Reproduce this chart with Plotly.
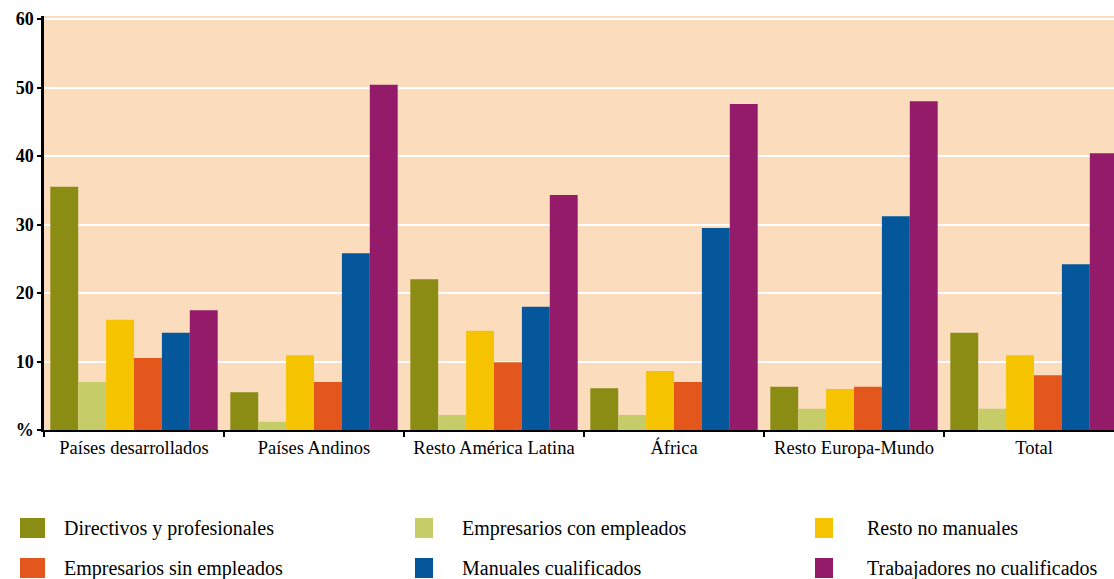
import plotly.graph_objects as go

categories = ["Países desarrollados", "Países Andinos", "Resto América Latina",
              "África", "Resto Europa-Mundo", "Total"]
series_names = ["Directivos y profesionales", "Empresarios con empleados", "Resto no manuales",
                "Empresarios sin empleados", "Manuales cualificados", "Trabajadores no cualificados"]
directivos = [35.5, 5.5, 22.0, 6.1, 6.3, 14.2]
emp_con = [7.0, 1.2, 2.2, 2.2, 3.1, 3.1]
resto_no_manuales = [16.1, 10.9, 14.5, 8.6, 6.0, 10.9]
emp_sin = [10.5, 7.0, 9.9, 7.0, 6.3, 8.0]
manuales = [14.2, 25.8, 18.0, 29.5, 31.2, 24.2]
trabajadores = [17.5, 50.4, 34.3, 47.6, 48.0, 40.4]
series_values = [directivos, emp_con, resto_no_manuales, emp_sin, manuales, trabajadores]
colors = ["#8A8C14", "#C6CD68", "#F6C300", "#E3561C", "#03579A", "#941B6A"]
ytick_vals = [0, 10, 20, 30, 40, 50, 60]
ytick_text = ["%", "10", "20", "30", "40", "50", "60"]

W, H = 1114, 579
serif = "Liberation Serif"

fig = go.Figure()
for name, vals, col in zip(series_names, series_values, colors):
    fig.add_trace(go.Bar(x=categories, y=vals, name=name, marker=dict(color=col, line=dict(width=0)),
                         showlegend=False))

fig.update_layout(
    width=W, height=H,
    margin=dict(l=44, r=0, t=16, b=149),
    paper_bgcolor="white",
    plot_bgcolor="#FBDDBE",
    barmode="group",
    bargap=0.07,
    bargroupgap=0,
    font=dict(family=serif, color="black"),
)
fig.update_xaxes(
    type="category",
    range=[-0.5, -0.5 + 1070 / 180],
    showline=True, linecolor="black", linewidth=2,
    ticks="outside", tickson="boundaries", ticklen=5, tickwidth=2, tickcolor="black",
    tickfont=dict(family=serif, size=18.5, color="black"),
    showgrid=False, zeroline=False,
)
fig.update_yaxes(
    range=[0, 60.45],
    tickvals=ytick_vals, ticktext=ytick_text,
    showline=True, linecolor="black", linewidth=2.5,
    ticks="outside", ticklen=4, tickwidth=2, tickcolor="black",
    tickfont=dict(family=serif, size=18, color="black", weight="bold"),
    showgrid=True, gridcolor="white", gridwidth=2,
    zeroline=False,
)

# Legend drawn as swatches + labels below the plot (3 columns x 2 rows)
col_swatch_x = [20, 415, 815]
col_swatch_w = [25, 18, 18]
col_text_x = [62, 460, 865]
row_y = [528, 568]
sw_h = 20
plot_h = H - 16 - 149
for i, (name, col) in enumerate(zip(series_names, colors)):
    r, c = divmod(i, 3)
    x0 = col_swatch_x[c]
    yc = row_y[r]
    fig.add_shape(type="rect", xref="paper", yref="paper",
                  x0=(x0 - 44) / 1070, x1=(x0 + col_swatch_w[c] - 44) / 1070,
                  y0=(H - 149 - (yc + sw_h / 2)) / plot_h,
                  y1=(H - 149 - (yc - sw_h / 2)) / plot_h,
                  fillcolor=col, line=dict(width=0))
    fig.add_annotation(text=name, xref="paper", yref="paper",
                       x=(col_text_x[c] - 44) / 1070,
                       y=(H - 149 - yc) / plot_h,
                       xanchor="left", yanchor="middle", showarrow=False,
                       font=dict(family=serif, size=20, color="black"))

fig.write_html("out.html")
